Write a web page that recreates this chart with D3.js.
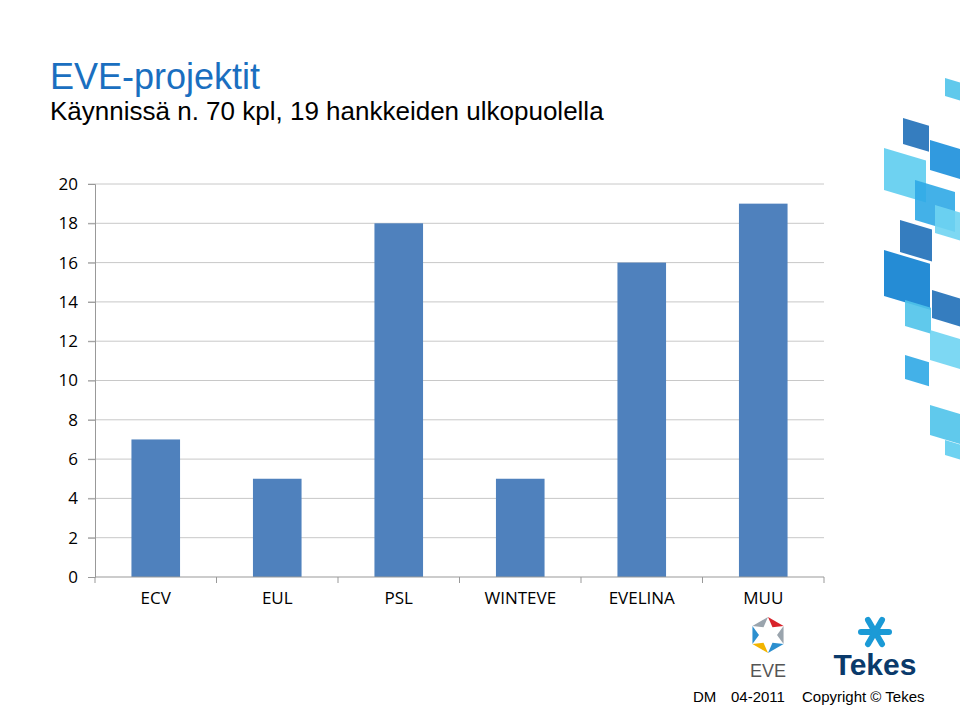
<!DOCTYPE html>
<html><head><meta charset="utf-8">
<script src="https://cdn.jsdelivr.net/npm/d3@7"></script>
<style>body{margin:0;background:#fff} .ax text{font-size:17px;font-family:'Open Sans',sans-serif;fill:#000}</style>
</head><body>
<svg id="c" width="960" height="720"></svg>
<script>
const categories = ["ECV", "EUL", "PSL", "WINTEVE", "EVELINA", "MUU"];
const values = [7, 5, 18, 5, 16, 19];
const yTicks = [0, 2, 4, 6, 8, 10, 12, 14, 16, 18, 20];

const svg = d3.select("#c");

// decorative tiles on the right (x, y, size, colour)
const tiles = [
  [945,78,18,"#4fc3ea"],[903,118,26,"#1f6fb8"],[884,148,42,"#5ecdf0"],[930,140,30,"#1b8fdc"],
  [915,180,40,"#2fa8e6"],[900,220,32,"#1f6fb8"],[884,250,46,"#0d7fd0"],[935,205,28,"#6fd4f2"],
  [905,300,26,"#4fc3ea"],[932,290,28,"#1f6fb8"],[930,330,30,"#6fd4f2"],[905,355,24,"#2fa8e6"],
  [930,405,30,"#4fc3ea"],[945,440,15,"#5ecdf0"]
];
svg.selectAll("polygon.tile").data(tiles).join("polygon")
  .attr("points", d => `${d[0]},${d[1]} ${d[0]+d[2]},${d[1]+d[2]*0.3} ${d[0]+d[2]},${d[1]+d[2]*1.3} ${d[0]},${d[1]+d[2]}`)
  .attr("fill", d => d[3]).attr("opacity", 0.9);

svg.append("text").attr("x", 50).attr("y", 89).attr("fill", "#1a6fc0")
  .style("font", "36px 'Liberation Sans', Arial").text("EVE-projektit");
svg.append("text").attr("x", 50).attr("y", 120).attr("fill", "#000")
  .style("font", "26px 'Liberation Sans', Arial").text("Käynnissä  n. 70 kpl, 19 hankkeiden ulkopuolella");

const x = d3.scaleBand().domain(categories).range([95, 824]).paddingInner(0.6).paddingOuter(0.3);
const y = d3.scaleLinear().domain([0, 20]).range([577, 184]);

svg.append("g").selectAll("line").data(yTicks.slice(1)).join("line")
  .attr("x1", 88).attr("x2", 824).attr("y1", d => y(d)).attr("y2", d => y(d))
  .attr("stroke", "#c8c8c8");

svg.selectAll("rect.bar").data(values).join("rect").attr("class", "bar")
  .attr("x", (d, i) => x(categories[i])).attr("width", x.bandwidth())
  .attr("y", d => y(d)).attr("height", d => y(0) - y(d)).attr("fill", "#4f81bd");

const yAxis = svg.append("g").attr("class", "ax").attr("transform", "translate(95,0)")
  .call(d3.axisLeft(y).tickValues(yTicks).tickSize(7).tickPadding(10));
const band = (824 - 95) / categories.length;
const xAxis = svg.append("g").attr("class", "ax").attr("transform", "translate(0,577)")
  .call(d3.axisBottom(x).tickSize(0).tickPadding(15));
xAxis.selectAll(".tick").append("line").attr("x1", band / 2).attr("x2", band / 2)
  .attr("y1", 0).attr("y2", 6).attr("stroke", "#999");
svg.append("line").attr("x1", 95).attr("x2", 95).attr("y1", 577).attr("y2", 583).attr("stroke", "#999");
[yAxis, xAxis].forEach(a => {
  a.select(".domain").attr("stroke", "#999");
  a.selectAll(".tick line").attr("stroke", "#999");
});
xAxis.select(".domain").attr("d", "M95,0H824");

// EVE logo
const eg = svg.append("g").attr("transform", "translate(768,635)");
const cols = ["#d8232a", "#9aa4ad", "#2c8fcf", "#f2b400", "#2c8fcf", "#9aa4ad"];
cols.forEach((c, i) => {
  const a = (i * 60 - 90) * Math.PI / 180, b = ((i + 1) * 60 - 90) * Math.PI / 180;
  eg.append("path").attr("d", `M${18*Math.cos(a)},${18*Math.sin(a)}L${18*Math.cos(b)},${18*Math.sin(b)}L${9*Math.cos((a+b)/2)},${9*Math.sin((a+b)/2)}Z`).attr("fill", c);
});
svg.append("text").attr("x", 768).attr("y", 677).attr("text-anchor", "middle")
  .style("font", "18px 'Liberation Sans', Arial").attr("fill", "#555").text("EVE");

// Tekes logo
const tg = svg.append("g").attr("transform", "translate(875,632)").attr("stroke", "#1b9ad6").attr("stroke-width", 6).attr("stroke-linecap", "round");
[0, 60, 120].forEach(r => tg.append("line").attr("x1", -14).attr("x2", 14).attr("transform", `rotate(${r})`));
svg.append("text").attr("x", 875).attr("y", 675).attr("text-anchor", "middle")
  .style("font", "bold 30px 'Liberation Sans', Arial").attr("fill", "#0a3a6b").text("Tekes");

const foot = "15px 'Liberation Sans', Arial";
svg.append("text").attr("x", 693).attr("y", 702).style("font", foot).text("DM");
svg.append("text").attr("x", 731).attr("y", 702).style("font", foot).text("04-2011");
svg.append("text").attr("x", 802).attr("y", 702).style("font", foot).text("Copyright © Tekes");
</script>
</body></html>
